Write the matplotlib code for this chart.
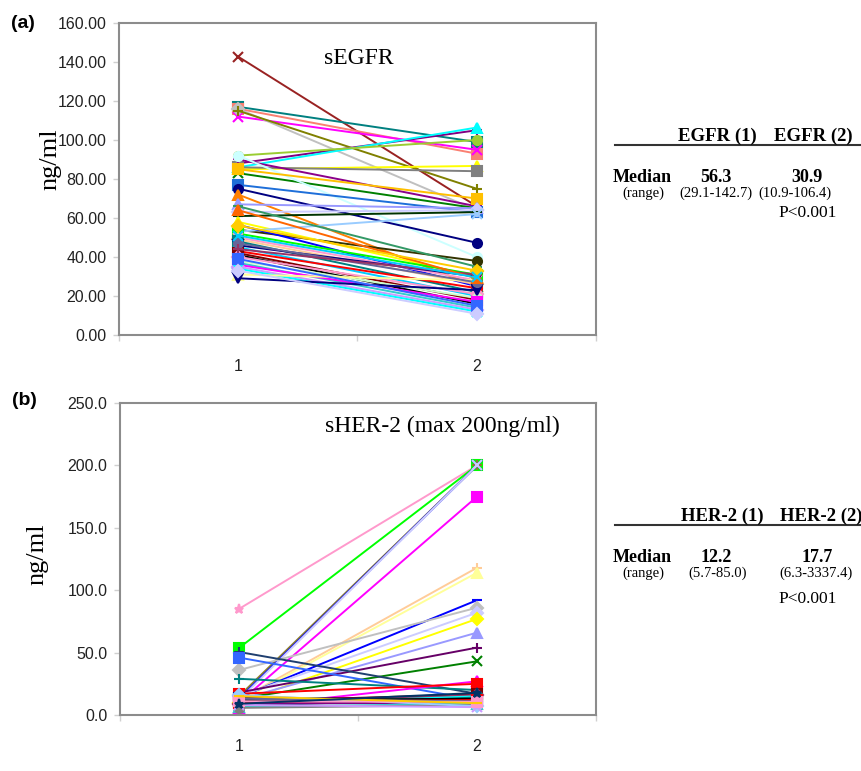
import matplotlib
matplotlib.use("Agg")
import matplotlib.pyplot as plt
from matplotlib.ticker import FormatStrFormatter

# ---------------- data ----------------
time_points = [1, 2]
time_labels = ["1", "2"]

egfr_t1 = [142.7, 117, 116, 112, 116, 115, 88, 86, 92, 85, 86, 83, 90, 92, 85, 77, 75, 72, 67, 63,
           61, 54, 58, 53, 56.5, 66, 52, 50, 49, 48, 46, 45, 43, 42, 41, 40, 38, 37, 36, 35,
           34, 31, 29.1, 47, 44, 39, 64, 56.1, 33, 51]
egfr_t2 = [66, 99, 93, 95, 64, 75, 105, 106.4, 100, 86.7, 84, 65, 66, 40, 70, 63, 47.3, 25, 65, 64,
           63, 38, 30, 62, 25, 35, 30.9, 28, 26, 22, 30, 20, 24, 18, 16, 21, 19, 14, 17, 13,
           12, 28, 23, 27, 31, 15, 29, 33, 10.9, 29.5]
egfr_colors = ["#992222", "#008080", "#FA8072", "#FF00FF", "#C0C0C0", "#808000", "#800080", "#00FFFF",
               "#9ACD32", "#FFFF00", "#808080", "#008000", "#8B008B", "#CCFFFF", "#FFC000", "#1E6FD9",
               "#000080", "#FF8000", "#9999FF", "#CCCCFF", "#003300", "#333300", "#FFFF00", "#99CCFF",
               "#0000FF", "#339966", "#00FF00", "#FF99CC", "#FFCC99", "#008080", "#000080", "#00CCFF",
               "#FF0000", "#800000", "#000000", "#FF99CC", "#CCFFCC", "#33CCCC", "#FF00FF", "#CC99FF",
               "#00FFFF", "#FFFF99", "#000080", "#666699", "#993366", "#3366FF", "#FF6600", "#FFCC00",
               "#CCCCFF", "#00CCFF"]
egfr_markers = ["x", "s", "s", "x", "D", "+", "+", "^", "o", "^", "s", "x", "+", "o", "s", "s",
                "o", "^", "^", "D", "_", "o", "^", "x", "_", "_", "s", "x", "D", "s", "v", "*",
                "o", "s", "_", "D", "o", "^", "s", "D", "x", "^", "v", "o", "+", "s", "^", "D",
                "D", "x"]

her2_t1 = [85.0, 53.7, 15, 13, 12, 10, 12, 11, 14, 36, 15, 10, 12.2, 18, 13, 50.5, 46, 29, 6, 17,
           12, 14, 11, 9, 8, 7, 12, 10, 13, 9, 6.5, 5.7, 16, 8, 11, 15, 9]
her2_t2 = [200, 200, 200, 200, 200, 175, 118, 114, 92, 86, 82, 77, 66, 54, 43, 17, 12, 20, 27, 25,
           13.5, 12.5, 16.5, 16, 15, 14, 13, 12, 11, 10, 9, 8, 7, 6.3, 10.5, 9.5, 17.7]
her2_colors = ["#FF99CC", "#00FF00", "#8B7D2B", "#0000FF", "#CCCCFF", "#FF00FF", "#FFCC99", "#FFFF99",
               "#0000FF", "#C0C0C0", "#CCCCFF", "#FFFF00", "#9999FF", "#660066", "#008000", "#1F3F6F",
               "#3366FF", "#008080", "#FF00FF", "#FF0000", "#FF6600", "#000080", "#800000", "#993366",
               "#00FFFF", "#008080", "#000000", "#FF0000", "#666699", "#800080", "#33CCCC", "#808080",
               "#99CCFF", "#CC99FF", "#FF99CC", "#FFCC00", "#003366"]
her2_markers = ["*", "s", "+", "x", "x", "s", "+", "^", "_", "D", "D", "D", "^", "+", "x", "+",
                "s", "+", "^", "s", "o", "s", "s", "D", "o", "x", "_", "s", "o", "+", "^", "o",
                "D", "x", "s", "_", "*"]

egfr_table = {"headers": ["EGFR (1)", "EGFR (2)"], "median": ["56.3", "30.9"],
              "range": ["(29.1-142.7)", "(10.9-106.4)"], "p": "P<0.001"}
her2_table = {"headers": ["HER-2 (1)", "HER-2 (2)"], "median": ["12.2", "17.7"],
              "range": ["(5.7-85.0)", "(6.3-3337.4)"], "p": "P<0.001"}

SANS = ["Liberation Sans", "DejaVu Sans"]
SERIF = ["Liberation Serif", "DejaVu Serif"]

W, H = 862, 771
fig = plt.figure(figsize=(W / 100, H / 100), dpi=100)


def px_axes(left, top, right, bottom):
    return fig.add_axes([left / W, 1 - bottom / H, (right - left) / W, (bottom - top) / H])


def style_axes(ax, ymax, ystep, fmt):
    ax.set_xlim(0.5, 2.5)
    ax.set_ylim(0, ymax)
    for s in ax.spines.values():
        s.set_color("#8c8c8c")
        s.set_linewidth(1.5)
    ax.set_yticks(range(0, ymax + 1, ystep))
    ax.yaxis.set_major_formatter(FormatStrFormatter(fmt))
    ax.tick_params(axis="y", length=4, width=1, color="#d0d0d0", pad=5, labelsize=11.5,
                   labelcolor="#222222")
    ax.set_xticks(time_points)
    ax.set_xticklabels(time_labels)
    ax.tick_params(axis="x", which="major", length=0, pad=17, labelsize=11.5, labelcolor="#222222")
    ax.set_xticks([0.5, 1.5, 2.5], minor=True)
    ax.tick_params(axis="x", which="minor", length=4, width=1, color="#d0d0d0")
    for lab in ax.get_xticklabels() + ax.get_yticklabels():
        lab.set_family(SANS)


def draw_series(ax, t1, t2, colors, markers):
    for a, b, c, m in zip(t1, t2, colors, markers):
        ax.plot(time_points, [a, b], color=c, lw=1.4, marker=m, ms=6.5, mfc=c, mec=c,
                mew=1.5, clip_on=False, zorder=3)


def draw_table(top_line_y, tbl, hx, mx, p_off):
    fig.add_artist(plt.Line2D([615 / W, 862 / W], [1 - top_line_y / H] * 2,
                              color="#333333", lw=1.5))
    for x, t in zip(hx, tbl["headers"]):
        fig.text(x / W, 1 - (top_line_y - 9) / H, t, ha="center", va="center",
                 family=SERIF, fontsize=13.5, fontweight="bold")
    fig.text(642 / W, 1 - (top_line_y + 33) / H, "Median", ha="center", va="center",
             family=SERIF, fontsize=13, fontweight="bold")
    fig.text(643 / W, 1 - (top_line_y + 48) / H, "(range)", ha="center", va="center",
             family=SERIF, fontsize=10.5)
    for x, m, r in zip(mx, tbl["median"], tbl["range"]):
        fig.text(x[0] / W, 1 - (top_line_y + 33) / H, m, ha="center", va="center",
                 family=SERIF, fontsize=13, fontweight="bold")
        fig.text(x[1] / W, 1 - (top_line_y + 48) / H, r, ha="center", va="center",
                 family=SERIF, fontsize=10.5)
    fig.text(808 / W, 1 - (top_line_y + p_off) / H, tbl["p"], ha="center", va="center",
             family=SERIF, fontsize=12.5)


# ---------------- panel (a) ----------------
ax1 = px_axes(119, 23, 596, 335)
style_axes(ax1, 160, 20, "%.2f")
draw_series(ax1, egfr_t1, egfr_t2, egfr_colors, egfr_markers)
ax1.text(0.43, 0.885, "sEGFR", transform=ax1.transAxes, ha="left", va="center",
         family=SERIF, fontsize=17)
fig.text(50 / W, 1 - 159 / H, "ng/ml", rotation=90, ha="center", va="center",
         family=SERIF, fontsize=19)
fig.text(23 / W, 1 - 23 / H, "(a)", ha="center", va="center", family=SANS,
         fontsize=14, fontweight="bold")
draw_table(145, egfr_table, [717, 813], [(716, 716), (807, 795)], 68)

# ---------------- panel (b) ----------------
ax2 = px_axes(120, 403, 596, 715)
style_axes(ax2, 250, 50, "%.1f")
draw_series(ax2, her2_t1, her2_t2, her2_colors, her2_markers)
ax2.text(0.43, 0.926, "sHER-2 (max 200ng/ml)", transform=ax2.transAxes, ha="left",
         va="center", family=SERIF, fontsize=17)
fig.text(37 / W, 1 - 554 / H, "ng/ml", rotation=90, ha="center", va="center",
         family=SERIF, fontsize=19)
fig.text(24 / W, 1 - 400 / H, "(b)", ha="center", va="center", family=SANS,
         fontsize=14, fontweight="bold")
draw_table(525, her2_table, [722, 821], [(716, 718), (817, 816)], 74)

fig.savefig("out.png", dpi=100, facecolor="white")
